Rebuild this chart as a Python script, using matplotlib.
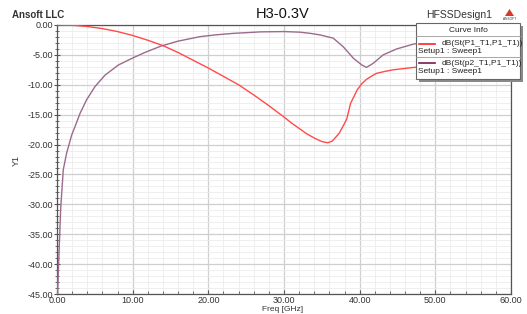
import matplotlib
matplotlib.use("Agg")
import matplotlib.pyplot as plt
from matplotlib.patches import Rectangle, Polygon
from matplotlib.lines import Line2D
import numpy as np

plt.rcParams['font.family'] = ['Liberation Sans', 'DejaVu Sans']

# S11 : dB(St(P1_T1,P1_T1))
freq_s11 = [0, 2, 4, 6, 8, 10, 12, 14, 16, 18, 20, 22, 24, 26, 28, 30, 31, 32, 33, 34, 35,
            35.8, 36.4, 37.3, 37.9, 38.3, 38.8, 39.7, 40.3, 40.9, 41.5, 42.2, 43.2, 44.4, 47.1,
            50, 55, 60]
s11_db = [0, -0.05, -0.25, -0.6, -1.1, -1.75, -2.55, -3.45, -4.6, -5.9, -7.2, -8.6, -10.0,
          -11.7, -13.5, -15.4, -16.4, -17.3, -18.2, -18.9, -19.5,
          -19.7, -19.4, -18.1, -16.7, -15.7, -13.1, -10.8, -9.8, -9.1, -8.6, -8.1, -7.8,
          -7.5, -7.1, -6.9, -6.8, -6.7]

# S21 : dB(St(p2_T1,P1_T1))
freq_s21 = [0.02, 0.1, 0.3, 0.5, 0.83, 1.28, 1.94, 2.38, 3.04, 3.92, 5.02, 6.34, 8.1, 9.87,
            11.6, 13.8, 16, 18.9, 21, 23.3, 26.9, 30, 32.1, 33.5, 34.8, 36.5, 37.8, 39.2, 40.3,
            40.9, 41.8, 43.1, 44.9, 47.1, 50, 55, 60]
s21_db = [-50, -44, -37, -30.4, -24.2, -21.4, -18.4, -17.0, -14.8, -12.5, -10.3, -8.4, -6.7,
          -5.6, -4.6, -3.5, -2.7, -1.95, -1.65, -1.4, -1.15, -1.1, -1.2, -1.4, -1.67, -2.2,
          -3.6, -5.6, -6.7, -7.1, -6.4, -5.0, -4.0, -3.2, -2.6, -2.1, -1.8]

x_ticks = [0, 10, 20, 30, 40, 50, 60]
y_ticks = [0, -5, -10, -15, -20, -25, -30, -35, -40, -45]
legend_labels = ["dB(St(P1_T1,P1_T1))", "dB(St(p2_T1,P1_T1))"]
legend_sub = "Setup1 : Sweep1"

W, H = 527, 314
fig = plt.figure(figsize=(W / 100, H / 100), dpi=100)
ax = fig.add_axes([57 / W, 1 - 294 / H, (511 - 57) / W, (294 - 25) / H])

c_red = '#ff4a4a'
c_pur = '#9c6a8c'

ax.plot(freq_s11, s11_db, color=c_red, lw=1.0, zorder=3)
ax.plot(freq_s21, s21_db, color=c_pur, lw=1.0, zorder=3)

ax.set_xlim(0, 60)
ax.set_ylim(-45, 0)
ax.set_xticks(x_ticks)
ax.set_xticklabels([f"{v:.2f}" for v in x_ticks])
ax.set_yticks(y_ticks)
ax.set_yticklabels([f"{v:.2f}" for v in y_ticks])
ax.set_xticks(np.arange(0, 61, 2), minor=True)
ax.set_yticks(np.arange(-45, 1, 1), minor=True)
ax.grid(which='major', color='#cfcfcf', lw=0.9)
ax.grid(which='minor', color='#ececec', lw=0.6)
ax.set_axisbelow(True)
ax.tick_params(axis='y', which='major', labelsize=6.5, labelcolor='#333333',
               color='#555555', length=4, width=0.8, direction='inout', pad=1)
ax.tick_params(axis='y', which='minor', color='#555555', length=2.5, width=0.6,
               direction='inout')
ax.tick_params(axis='x', which='major', labelsize=6.5, labelcolor='#333333',
               color='#555555', length=3, width=0.8, direction='in', pad=1.5)
ax.tick_params(axis='x', which='minor', color='#555555', length=2, width=0.6,
               direction='in')
for s in ax.spines.values():
    s.set_color('#555555')
    s.set_linewidth(0.9)

fig.text(283 / W, 1 - 309.5 / H, "Freq [GHz]", ha='center', va='center', fontsize=6, color='#333333')
fig.text(16 / W, 1 - 160 / H, "Y1", ha='center', va='center', fontsize=6.5, rotation=90, color='#333333')

fig.text(283 / W, 1 - 14 / H, "H3-0.3V", ha='center', va='center', fontsize=10.5, color='#111111')
fig.text(12 / W, 1 - 15 / H, "Ansoft LLC", ha='left', va='center', fontsize=7, fontweight='bold', color='#333333')
fig.text(492 / W, 1 - 15 / H, "HFSSDesign1", ha='right', va='center', fontsize=7.5, color='#333333')

# logo
tri = Polygon([[(505) / W, 1 - 16 / H], [(514) / W, 1 - 16 / H], [(509.5) / W, 1 - 9 / H]],
              closed=True, transform=fig.transFigure, facecolor='#d43a2a', edgecolor='none')
fig.add_artist(tri)
fig.text(509.5 / W, 1 - 19 / H, "ANSOFT", ha='center', va='center', fontsize=2.3, color='#333333')

# legend box
lx0, lx1, ly0, ly1 = 416, 520, 23, 79
shadow = Rectangle((lx0 / W + 3 / W, 1 - (ly1 + 3) / H), (lx1 - lx0) / W, (ly1 - ly0) / H,
                   transform=fig.transFigure, facecolor='#8a8a8a', edgecolor='none', zorder=10)
fig.add_artist(shadow)
box = Rectangle((lx0 / W, 1 - ly1 / H), (lx1 - lx0) / W, (ly1 - ly0) / H,
                transform=fig.transFigure, facecolor='white', edgecolor='#666666', lw=0.8, zorder=11)
fig.add_artist(box)
fig.text((lx0 + lx1) / 2 / W, 1 - 30 / H, "Curve Info", ha='center', va='center', fontsize=6,
         color='#222222', zorder=12)
for yy in (35.5, 56.5):
    fig.add_artist(Line2D([lx0 / W, lx1 / W], [1 - yy / H, 1 - yy / H], transform=fig.transFigure,
                          color='#999999', lw=0.6, zorder=12))
entries = [(43.5, 51.7, '#ff2020', legend_labels[0]), (63.3, 71.7, '#7a1a50', legend_labels[1])]
for yl, ys, col, lab in entries:
    fig.add_artist(Line2D([419 / W, 435 / W], [1 - yl / H, 1 - yl / H], transform=fig.transFigure,
                          color=col, lw=1.2, zorder=12))
    fig.text(442 / W, 1 - yl / H, lab, ha='left', va='center', fontsize=6, color='#222222', zorder=12)
    fig.text(417.5 / W, 1 - ys / H, legend_sub, ha='left', va='center', fontsize=6, color='#222222', zorder=12)

fig.savefig("out.png", dpi=100)
